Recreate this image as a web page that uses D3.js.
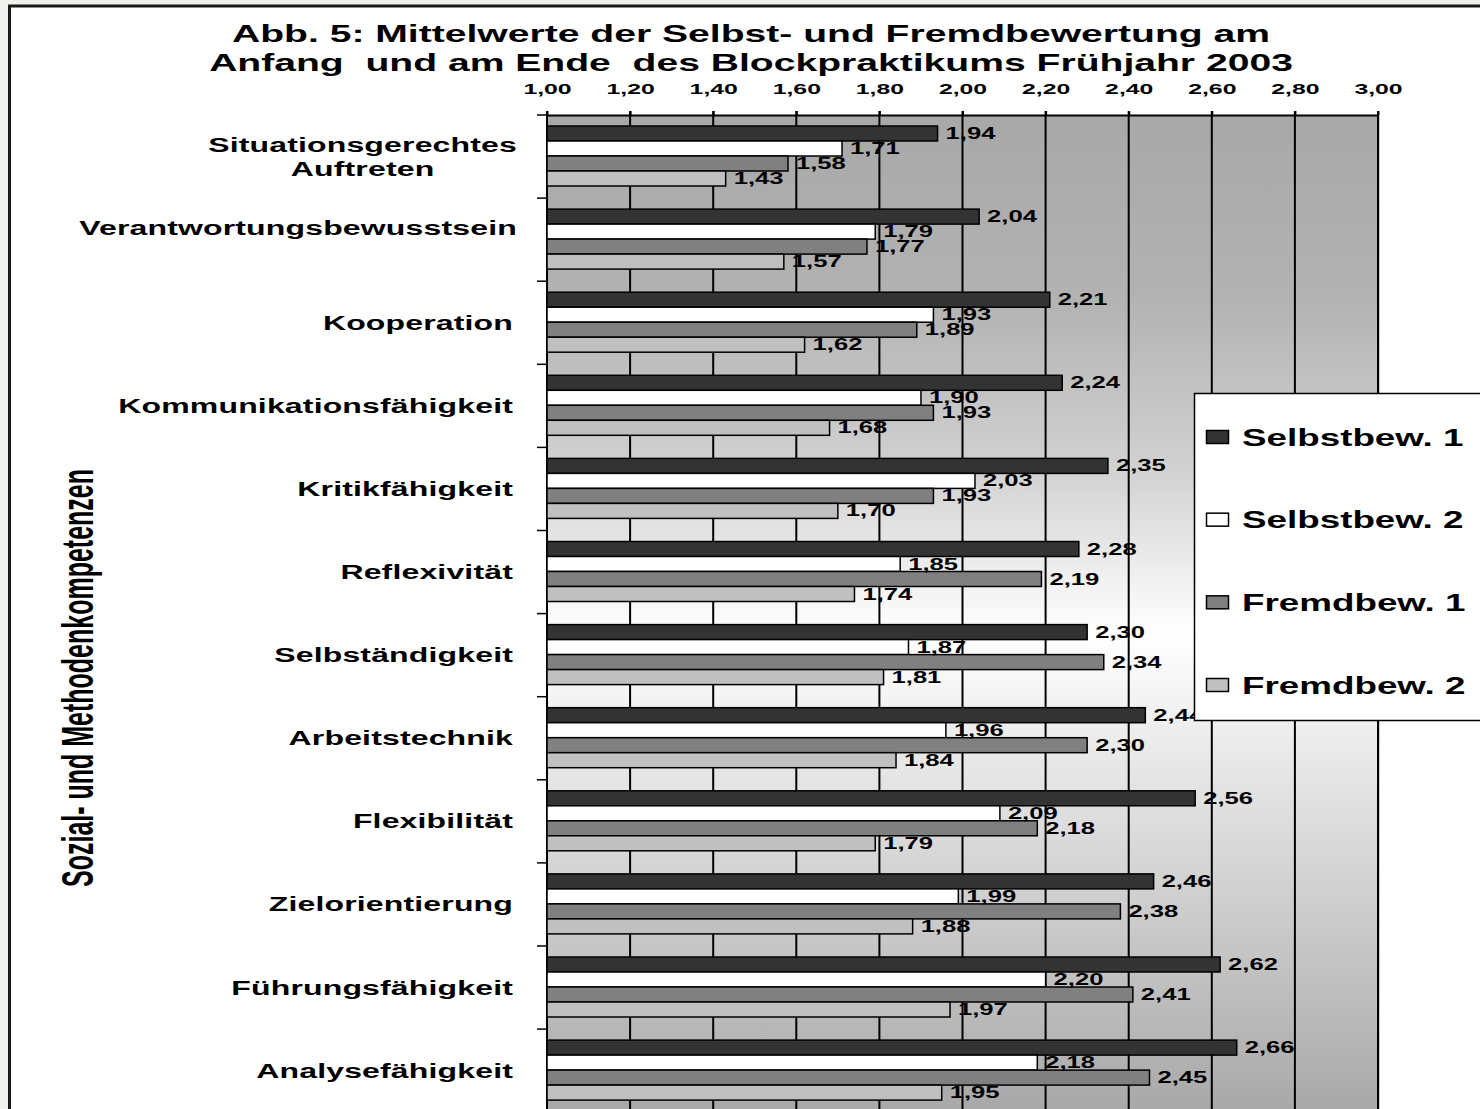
<!DOCTYPE html>
<html>
<head>
<meta charset="utf-8">
<script src="https://cdn.jsdelivr.net/npm/d3@7"></script>
<style>
  html, body { margin: 0; padding: 0; background: #f0f0ec; }
  svg { display: block; }
  text { font-family: "Liberation Sans", Arial, sans-serif; font-weight: bold; fill: #000; }
</style>
</head>
<body>
<svg id="chart" width="1480" height="1109"></svg>
<script>
// Kompetenzbereiche (mehrzeilige Beschriftungen als Zeilenlisten)
const categories = [
  "Situationsgerechtes Auftreten",
  "Verantwortungsbewusstsein",
  "Kooperation",
  "Kommunikationsfähigkeit",
  "Kritikfähigkeit",
  "Reflexivität",
  "Selbständigkeit",
  "Arbeitstechnik",
  "Flexibilität",
  "Zielorientierung",
  "Führungsfähigkeit",
  "Analysefähigkeit"
];
const categoryLines = [
  ["Situationsgerechtes", "Auftreten"],
  ["Verantwortungsbewusstsein", ""],
  ["Kooperation"],
  ["Kommunikationsfähigkeit"],
  ["Kritikfähigkeit"],
  ["Reflexivität"],
  ["Selbständigkeit"],
  ["Arbeitstechnik"],
  ["Flexibilität"],
  ["Zielorientierung"],
  ["Führungsfähigkeit"],
  ["Analysefähigkeit"]
];

const seriesNames = ["Selbstbew. 1", "Selbstbew. 2", "Fremdbew. 1", "Fremdbew. 2"];

// Mittelwerte je Bereich
const selbstbew1 = [1.94, 2.04, 2.21, 2.24, 2.35, 2.28, 2.30, 2.44, 2.56, 2.46, 2.62, 2.66];
const selbstbew2 = [1.71, 1.79, 1.93, 1.90, 2.03, 1.85, 1.87, 1.96, 2.09, 1.99, 2.20, 2.18];
const fremdbew1  = [1.58, 1.77, 1.89, 1.93, 1.93, 2.19, 2.34, 2.30, 2.18, 2.38, 2.41, 2.45];
const fremdbew2  = [1.43, 1.57, 1.62, 1.68, 1.70, 1.74, 1.81, 1.84, 1.79, 1.88, 1.97, 1.95];

const tickValues = [1.0, 1.2, 1.4, 1.6, 1.8, 2.0, 2.2, 2.4, 2.6, 2.8, 3.0];

const titleLines = [
  "Abb. 5: Mittelwerte der Selbst- und Fremdbewertung am",
  "Anfang  und am Ende  des Blockpraktikums Frühjahr 2003"
];
const yTitle = "Sozial- und Methodenkompetenzen";

const seriesValues = [selbstbew1, selbstbew2, fremdbew1, fremdbew2];
const seriesFill = ["#333333", "#ffffff", "#808080", "#c0c0c0"];

// Texte sind horizontal gedehnt gesetzt
const SX = 1.6;

const de = d3.formatLocale({ decimal: ",", thousands: ".", grouping: [3], currency: ["", " €"] });
const fmt = de.format(".2f");

const svg = d3.select("#chart");

// Rahmen des Diagrammbereichs
svg.append("rect")
  .attr("x", 9.5).attr("y", 6)
  .attr("width", 1500).attr("height", 1200)
  .attr("fill", "#ffffff")
  .attr("stroke", "#1a1a1a").attr("stroke-width", 3);

const plotTop = 115;
const band = 83.1;
const x = d3.scaleLinear().domain([1, 3]).range([547, 1378]);
const y = d3.scaleBand().domain(categories).range([plotTop, plotTop + band * categories.length]);
const yInner = d3.scaleBand().domain(seriesNames).range([11, 71]);

const [y0, y1] = y.range();

// Hintergrund der Zeichenfläche mit vertikalem Verlauf (grau - weiß - grau)
const defs = svg.append("defs");
const grad = defs.append("linearGradient").attr("id", "plotBg")
  .attr("x1", 0).attr("y1", 0).attr("x2", 0).attr("y2", 1);
[
  ["0%", "#a8a8a8"],
  ["18%", "#b2b2b2"],
  ["35%", "#d0d0d0"],
  ["52%", "#ffffff"],
  ["100%", "#a8a8a8"]
].forEach(([o, c]) => grad.append("stop").attr("offset", o).attr("stop-color", c));

svg.append("rect")
  .attr("x", x(1)).attr("y", y0)
  .attr("width", x(3) - x(1)).attr("height", y1 - y0)
  .attr("fill", "url(#plotBg)");
svg.append("line")
  .attr("x1", x(3) + 1.5).attr("x2", x(3) + 1.5)
  .attr("y1", y0).attr("y2", y1)
  .attr("stroke", "#cccccc").attr("stroke-width", 1);

// Gitterlinien
svg.append("g").selectAll("line").data(tickValues).join("line")
  .attr("x1", d => x(d)).attr("x2", d => x(d))
  .attr("y1", y0 - 4).attr("y2", y1)
  .attr("stroke", "#000").attr("stroke-width", 2);

// Obere Achse
const xAxis = svg.append("g")
  .attr("transform", `translate(0,${y0})`)
  .call(d3.axisTop(x).tickValues(tickValues).tickFormat(fmt).tickSize(4).tickSizeOuter(0));
xAxis.select(".domain").attr("stroke", "#000").attr("stroke-width", 2);
xAxis.selectAll(".tick line").attr("stroke", "#000").attr("stroke-width", 2);
xAxis.selectAll(".tick text")
  .attr("y", 0).attr("dy", 0)
  .attr("font-size", 15.5)
  .attr("font-family", "'Liberation Sans', Arial, sans-serif")
  .attr("font-weight", "bold")
  .attr("transform", `translate(0,-21) scale(${SX},1)`);

// Linke Achse mit Markierungen an den Bereichsgrenzen
svg.append("line")
  .attr("x1", x(1)).attr("x2", x(1)).attr("y1", y0).attr("y2", y1)
  .attr("stroke", "#000").attr("stroke-width", 2);
const boundaries = categories.map(c => y(c)).concat([y1]);
svg.append("g").selectAll("line").data(boundaries).join("line")
  .attr("x1", x(1) - 10).attr("x2", x(1))
  .attr("y1", d => d).attr("y2", d => d)
  .attr("stroke", "#000").attr("stroke-width", 1.5);

// Balken
const groups = svg.append("g").selectAll("g").data(categories).join("g")
  .attr("transform", d => `translate(0,${y(d)})`);

groups.each(function (cat, ci) {
  const g = d3.select(this);
  const rows = seriesNames.map((s, si) => ({ s, si, v: seriesValues[si][ci] }));
  g.selectAll("rect").data(rows).join("rect")
    .attr("x", x(1))
    .attr("y", d => yInner(d.s))
    .attr("width", d => x(d.v) - x(1))
    .attr("height", yInner.bandwidth())
    .attr("fill", d => seriesFill[d.si])
    .attr("stroke", "#000").attr("stroke-width", 1.5);
  g.selectAll("text.val").data(rows).join("text")
    .attr("class", "val")
    .attr("font-size", 16)
    .attr("transform", d => `translate(${x(d.v) + 8},${yInner(d.s) + yInner.bandwidth() / 2 + 5.5}) scale(${SX},1)`)
    .text(d => fmt(d.v));
});

// Bereichsbeschriftungen
const labelRight = 513;
const lineGap = 24;
categories.forEach((cat, ci) => {
  const lines = categoryLines[ci];
  const cy = y(cat) + y.bandwidth() / 2;
  const texts = lines.map(ln => svg.append("text")
    .attr("font-size", 20)
    .attr("letter-spacing", 0.1)
    .text(ln));
  const widths = texts.map(t => t.node().getComputedTextLength() * SX);
  const maxW = d3.max(widths);
  const n = lines.length;
  texts.forEach((t, li) => {
    const ly = cy + (li - (n - 1) / 2) * lineGap + 7;
    const lx = n > 1 ? labelRight - maxW / 2 + 4 : labelRight;
    t.attr("text-anchor", n > 1 ? "middle" : "end")
     .attr("transform", `translate(${lx},${ly}) scale(${SX},1)`);
  });
});

// Achsentitel
svg.append("text")
  .attr("font-size", 25)
  .attr("text-anchor", "middle")
  .attr("transform", `translate(93,678) scale(1.75,1) rotate(-90)`)
  .text(yTitle);

// Diagrammtitel
titleLines.forEach((ln, i) => {
  svg.append("text")
    .attr("font-size", 23)
    .attr("text-anchor", "middle")
    .style("white-space", "pre")
    .attr("transform", `translate(751,${42 + i * 29}) scale(1.7,1)`)
    .text(ln);
});

// Legende
const legend = svg.append("g");
legend.append("rect")
  .attr("x", 1194.5).attr("y", 393.5)
  .attr("width", 400).attr("height", 327)
  .attr("fill", "#ffffff").attr("stroke", "#000").attr("stroke-width", 1.5);
const legY = d3.scalePoint().domain(seriesNames).range([437, 685]);
const items = legend.selectAll("g").data(seriesNames).join("g")
  .attr("transform", d => `translate(0,${legY(d)})`);
items.append("rect")
  .attr("x", 1206.5).attr("y", -6.5).attr("width", 22).attr("height", 13)
  .attr("fill", (d, i) => seriesFill[i]).attr("stroke", "#000").attr("stroke-width", 1.5);
items.append("text")
  .attr("font-size", 23)
  .attr("transform", `translate(1242,8.5) scale(${SX},1)`)
  .text(d => d);
</script>
</body>
</html>
